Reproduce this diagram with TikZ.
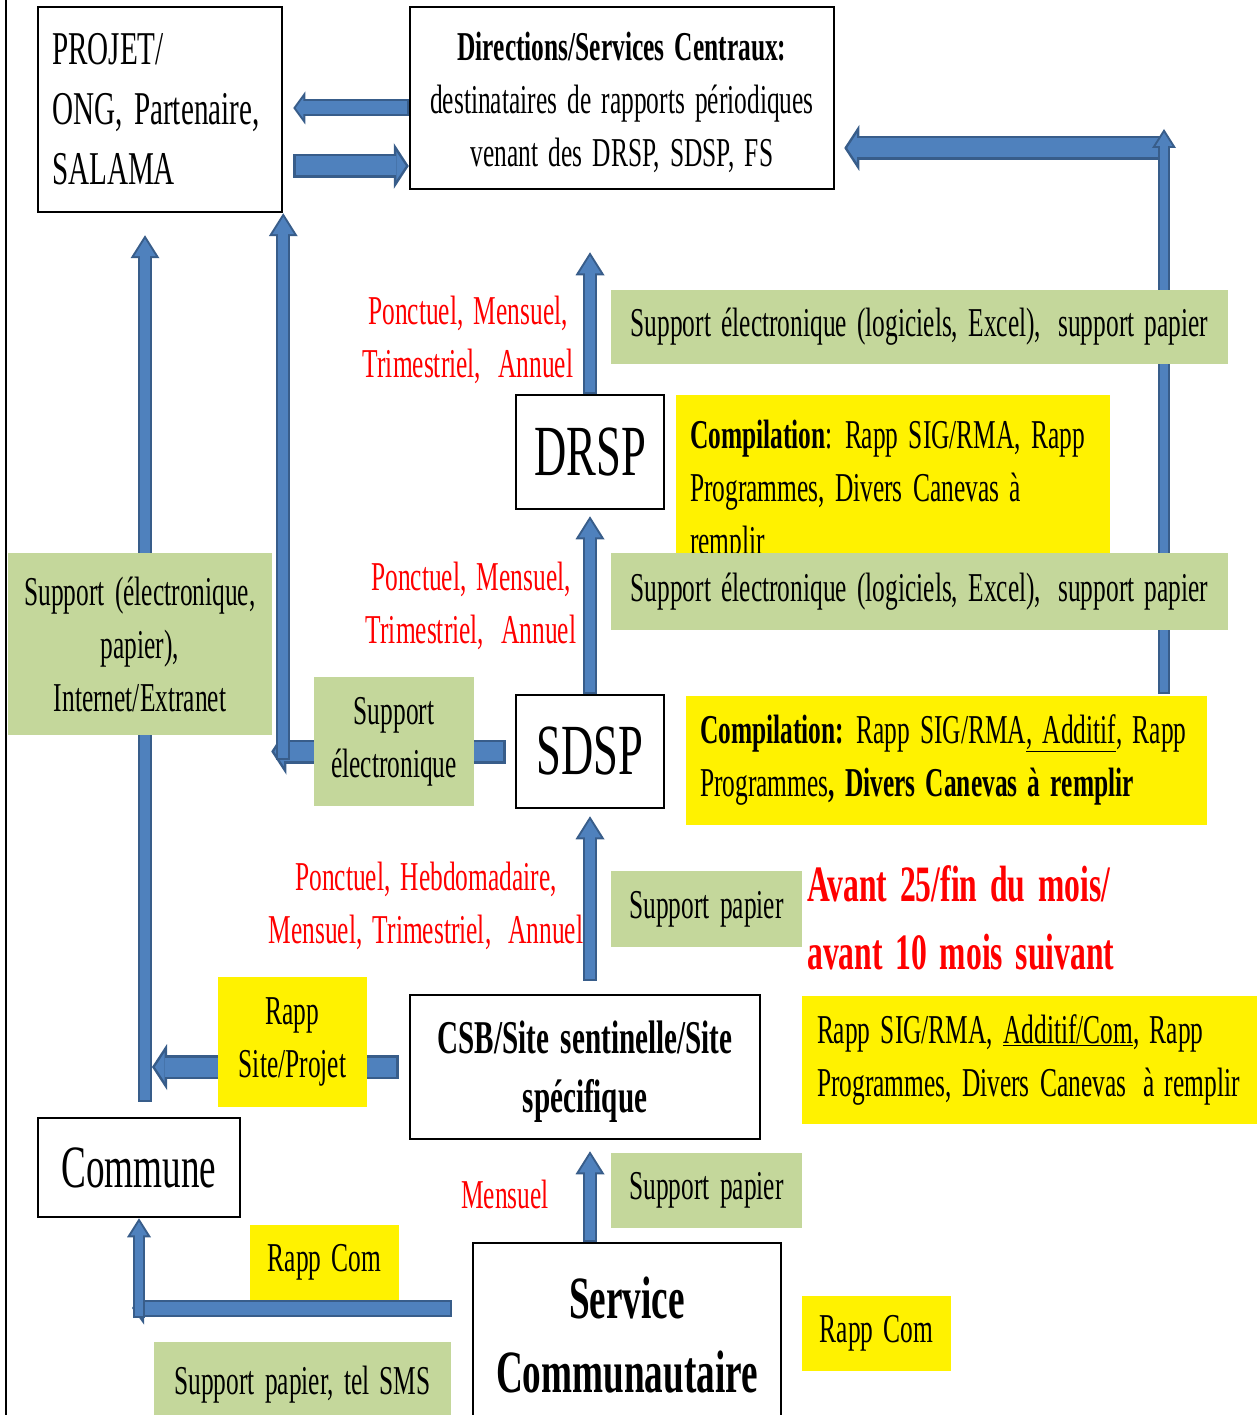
\documentclass[tikz,border=0pt]{standalone}
\usepackage{fontspec}
\setmainfont{Liberation Serif}[FakeStretch=0.62]
\usetikzlibrary{arrows.meta,calc}
\definecolor{arrowblue}{HTML}{4F81BD}
\definecolor{arrowedge}{HTML}{385D8A}
\definecolor{supportgreen}{HTML}{C4D79B}
\newcommand\sized[2]{\fontsize{#1}{#2}\selectfont\spaceskip=.25em\relax}
\tikzstyle{every node}=[font=\sized{41}{53}, inner sep=0pt]
\tikzstyle{tier}=[draw=black, line width=2.5pt, fill=white]
\tikzstyle{support}=[fill=supportgreen]
\tikzstyle{report}=[fill=yellow]
\tikzstyle{period}=[text=red, align=center]
\tikzstyle{harrow}=[draw=arrowedge, line width=24pt, -{Triangle[width=46pt,length=15pt,line width=0pt]},
  postaction={draw=arrowblue, line width=19pt, shorten <=2.5pt, shorten >=3pt, -{Triangle[width=29pt,length=9.5pt,line width=0pt]}}]
\tikzstyle{hsarrow}=[draw=arrowedge, line width=17pt, -{Triangle[width=33pt,length=12pt,line width=0pt]},
  postaction={draw=arrowblue, line width=13pt, shorten <=2pt, shorten >=2.5pt, -{Triangle[width=20.6pt,length=7.5pt,line width=0pt]}}]
\tikzstyle{varrow}=[draw=arrowedge, line width=14pt, -{Triangle[width=29pt,length=23pt,line width=0pt]},
  postaction={draw=arrowblue, line width=10pt, shorten <=2pt, shorten >=3.75pt, -{Triangle[width=21.7pt,length=17.25pt,line width=0pt]}}]
\tikzstyle{vsarrow}=[draw=arrowedge, line width=12pt, -{Triangle[width=24pt,length=19pt,line width=0pt]},
  postaction={draw=arrowblue, line width=8pt, shorten <=2pt, shorten >=3.75pt, -{Triangle[width=16.7pt,length=13.25pt,line width=0pt]}}]

\begin{document}
\begin{tikzpicture}[x=1pt, y=-1pt]
\useasboundingbox (0,0) rectangle (1257,1415);
% Frame
    \draw[line width=2.5pt] (6,0) -- (6,1415);
% Levels
    \node[tier, text width=216pt, inner xsep=14pt, minimum height=205pt, align=flush left, font=\sized{47}{60}] (projet) at (160,109.5) {PROJET/\\ONG, Partenaire,\\SALAMA};
    \node[tier, minimum width=424pt, minimum height=182pt, align=center] (dir) at (622,98) {\strut\textbf{Directions/Services Centraux:}\\destinataires de rapports périodiques\\venant des DRSP, SDSP, FS};
    \node[tier, minimum width=148pt, minimum height=114pt, font=\sized{72}{80}] (drsp) at (590,452) {DRSP};
    \node[tier, minimum width=148pt, minimum height=113pt, font=\sized{72}{80}] (sdsp) at (590,751.5) {SDSP};
    \node[tier, minimum width=350pt, minimum height=144pt, align=center, font=\bfseries\sized{47}{59}] (csb) at (585,1067) {\strut CSB/Site sentinelle/Site\\spécifique};
    \node[tier, minimum width=202pt, minimum height=99pt, font=\sized{60}{70}] (commune) at (139,1167.5) {Commune};
    \node[tier, minimum width=308pt, minimum height=184pt, align=center, font=\bfseries\sized{60}{74}] (service) at (627,1335) {Service\\Communautaire};
% Arrows
    \coordinate (rightcorner) at (1164,148);
    \coordinate (rightfoot) at (1164,694);
    \coordinate (comturn) at (132,1308);
    \draw[hsarrow] ($(dir.west)+(0,10)$) -- ($(projet.east |- dir.west)+(10,10)$);
    \draw[harrow] ($(projet.east |- dir.west)+(10,68)$) -- ($(dir.west)+(0,68)$);
    \draw[harrow] (rightcorner) -- ($(dir.east |- rightcorner)+(9,0)$);
    \draw[vsarrow] (rightfoot) -- ($(rightcorner)+(0,-19)$);
    \draw[varrow] (drsp.north) -- ($(dir.south -| drsp.north)+(0,62)$);
    \draw[varrow] (sdsp.north) -- ($(drsp.south)+(0,6)$);
    \draw[varrow] ($(csb.north -| sdsp.south)+(0,-13)$) -- ($(sdsp.south)+(0,7)$);
    \draw[varrow] (service.north -| sdsp.south) -- ($(csb.south -| sdsp.south)+(0,11)$);
    \draw[harrow] ($(sdsp.west)+(-9,0)$) -- ($(sdsp.west -| projet.east)+(-12,0)$);
    \draw[varrow] ($(projet.east |- sdsp.west)+(0,8)$) -- (projet.south east);
    \draw[varrow] ($(commune.north)+(6,-15)$) -- ($(commune.north |- projet.south)+(6,22)$);
    \draw[harrow] ($(csb.west)+(-10,0)$) -- ($(csb.west -| commune.north)+(13,0)$);
    \draw[hsarrow] ($(service.west |- comturn)+(-20,0)$) -- (comturn);
    \draw[vsarrow] ($(commune.south |- comturn)+(0,10)$) -- (commune.south);
% Supports and reports
    \node[support, minimum width=617pt, minimum height=74pt] (elec1) at (919.5,327) {Support électronique (logiciels, Excel), \,support papier};
    \node[report, text width=406pt, inner xsep=14pt, minimum height=194pt, align=flush left] (comp1) at (893,492) {\textbf{Compilation}: Rapp SIG/RMA, Rapp\\Programmes, Divers Canevas à\\remplir};
    \node[support, minimum width=617pt, minimum height=77pt] (elec2) at (919.5,591.5) {Support électronique (logiciels, Excel), \,support papier};
    \node[support, minimum width=264pt, minimum height=182pt, align=center] (web) at (140,644) {Support (électronique,\\papier),\\Internet/Extranet};
    \node[support, minimum width=160pt, minimum height=129pt, align=center] (elec3) at (394,741.5) {Support\\électronique};
    \node[report, text width=493pt, inner xsep=14pt, minimum height=129pt, align=flush left] (comp2) at (946.5,760) {\textbf{Compilation:} Rapp SIG/RMA\underline{, Additif}, Rapp\\Programmes\textbf{, Divers Canevas à remplir}};
    \node[support, minimum width=191pt, minimum height=76pt] (paper1) at (706.5,909) {Support papier};
    \node[report, text width=435pt, inner xsep=15pt, minimum height=128pt, align=flush left] (sig) at (1034.5,1060) {Rapp SIG/RMA, \underline{Additif/Com}, Rapp\\Programmes, Divers Canevas \,à remplir};
    \node[report, minimum width=149pt, minimum height=130pt, align=center] (site) at (292.5,1042) {Rapp\\Site/Projet};
    \node[support, minimum width=191pt, minimum height=75pt] (paper2) at (706.5,1190.5) {Support papier};
    \node[report, minimum width=149pt, minimum height=75pt] (com1) at (324.5,1262.5) {Rapp Com};
    \node[report, minimum width=149pt, minimum height=75pt] (com2) at (876.5,1333.5) {Rapp Com};
    \node[support, minimum width=297pt, minimum height=86pt] (sms) at (302.5,1385) {Support papier, tel SMS};
% Periods
    \node[period] (freq1) at (468,340) {Ponctuel, Mensuel,\\Trimestriel, \,Annuel};
    \node[period] (freq2) at (471,606) {Ponctuel, Mensuel,\\Trimestriel, \,Annuel};
    \node[period] (freq3) at (426,906) {Ponctuel, Hebdomadaire,\\Mensuel, Trimestriel, \,Annuel};
    \node[period] (freq4) at (505,1194) {Mensuel};
    \node[period, anchor=west, align=left, font=\bfseries\sized{51}{68}] (delay) at (807,918) {Avant 25/fin du mois/\\avant 10 mois suivant};
\end{tikzpicture}
\end{document}
